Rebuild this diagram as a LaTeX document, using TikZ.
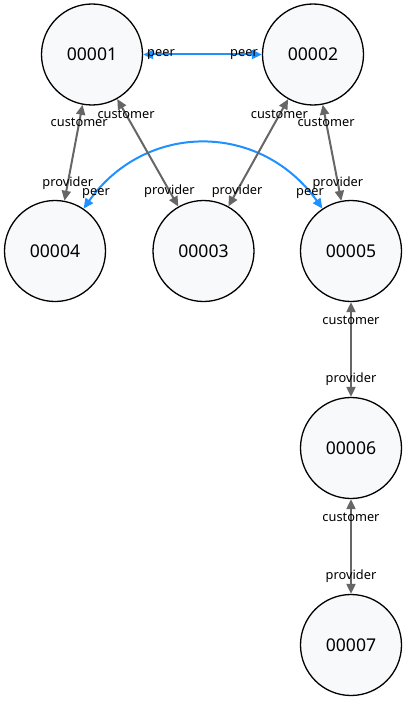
\documentclass[tikz,border=0pt]{standalone}
\usepackage{fontspec}
\setmainfont{Noto Sans}
\usetikzlibrary{arrows.meta,calc}
\definecolor{nodefill}{HTML}{F8F9FB}
\definecolor{linkgray}{HTML}{666666}
\definecolor{peerblue}{HTML}{1E90FF}
\begin{document}
\begin{tikzpicture}[x=1pt,y=-1pt,
  asnode/.style={circle,draw=black,line width=1.3pt,fill=nodefill,
    minimum size=101pt,inner sep=0pt,font=\fontsize{17.6}{20}\selectfont},
  transit/.style={draw=linkgray,line width=2pt,{Triangle[length=10pt,width=9pt]}-{Triangle[length=10pt,width=9pt]}},
  peering/.style={draw=peerblue,line width=2pt,{Triangle[length=10pt,width=9pt]}-{Triangle[length=10pt,width=9pt]}},
  lbl/.style={font=\fontsize{12.8}{14}\selectfont,inner sep=0pt,text=black}]
\useasboundingbox (0,0) rectangle (407,701);

% autonomous systems
\node[asnode] (n1) at (92,54.5) {00001};
\node[asnode] (n2) at (313,54.5) {00002};
\node[asnode] (n4) at (55,251) {00004};
\node[asnode] (n3) at (203.5,251) {00003};
\node[asnode] (n5) at (351,251) {00005};
\node[asnode] (n6) at (351,448) {00006};
\node[asnode] (n7) at (351,645) {00007};

% peering links
\draw[peering] (n1) -- (n2);
\draw[peering] (n4.56) .. controls +(62,-87) and +(-62,-87) .. (n5.124);

% customer-provider links
\draw[transit] (n1) -- (n4);
\draw[transit] (n1) -- (n3);
\draw[transit] (n2) -- (n3);
\draw[transit] (n2) -- (n5);
\draw[transit] (n5) -- (n6);
\draw[transit] (n6) -- (n7);

% link end labels
\node[lbl] (p12a) at ($(n1)!69pt!(n2)$) {peer};
\node[lbl] (p12b) at ($(n2)!69pt!(n1)$) {peer};
\node[lbl] (p45a) at (96,194) {peer};
\node[lbl] (p45b) at (310,194) {peer};
\node[lbl] (c14) at ($(n1)!69pt!(n4)$) {customer};
\node[lbl] (v14) at ($(n4)!69pt!(n1)$) {provider};
\node[lbl] (c13) at ($(n1)!69pt!(n3)$) {customer};
\node[lbl] (v13) at ($(n3)!69pt!(n1)$) {provider};
\node[lbl] (c23) at ($(n2)!69pt!(n3)$) {customer};
\node[lbl] (v23) at ($(n3)!69pt!(n2)$) {provider};
\node[lbl] (c25) at ($(n2)!69pt!(n5)$) {customer};
\node[lbl] (v25) at ($(n5)!69pt!(n2)$) {provider};
\node[lbl] (c56) at ($(n5)!69pt!(n6)$) {customer};
\node[lbl] (v56) at ($(n6)!69pt!(n5)$) {provider};
\node[lbl] (c67) at ($(n6)!69pt!(n7)$) {customer};
\node[lbl] (v67) at ($(n7)!69pt!(n6)$) {provider};
\end{tikzpicture}
\end{document}
